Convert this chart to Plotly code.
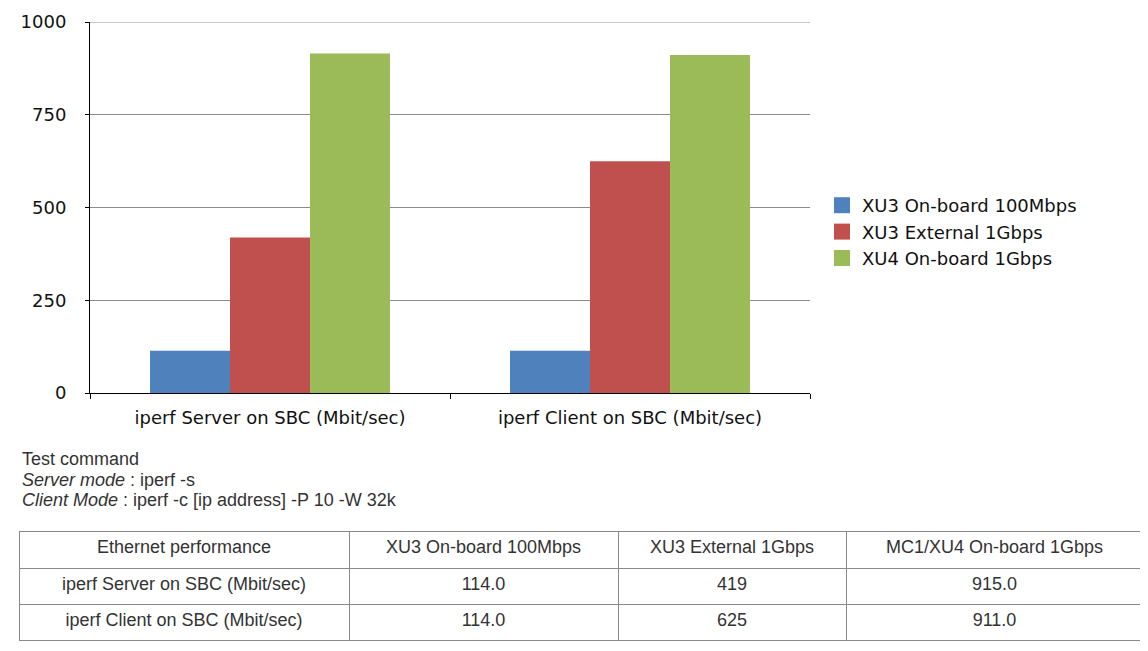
import plotly.graph_objects as go

tests = ["iperf Server on SBC (Mbit/sec)", "iperf Client on SBC (Mbit/sec)"]
xu3_onboard = [114.0, 114.0]
xu3_external = [419, 625]
xu4_onboard = [915.0, 911.0]
series_names = ["XU3 On-board 100Mbps", "XU3 External 1Gbps", "XU4 On-board 1Gbps"]
colors = ["#4F81BD", "#C0504D", "#9BBB59"]
y_ticks = [0, 250, 500, 750, 1000]

table_header = ["Ethernet performance", "XU3 On-board 100Mbps", "XU3 External 1Gbps", "MC1/XU4 On-board 1Gbps"]
table_col1 = ["114.0", "114.0"]
table_col2 = ["419", "625"]
table_col3 = ["915.0", "911.0"]

W, H = 1148, 651
OFF = 8  # page body margin


def px(x):
    return (x - OFF) / W


def py(y):
    return 1 - (y - OFF) / H


chart_font = "DejaVu Sans, Verdana"
text_font = "Liberation Sans, Arial"

fig = go.Figure()
for i, (name, vals) in enumerate(zip(series_names, [xu3_onboard, xu3_external, xu4_onboard])):
    fig.add_trace(go.Bar(x=tests, y=vals, name=name, marker_color=colors[i],
                         marker_line_width=0, showlegend=False))
    # legend swatch, bigger than the default bar one
    fig.add_trace(go.Scatter(x=[None], y=[None], mode="markers", name=name,
                             marker=dict(symbol="square", size=16, color=colors[i])))

fig.add_trace(go.Table(
    domain=dict(x=[px(19), px(1143)], y=[py(642), py(531)]),
    columnwidth=[330, 269, 228, 297],
    header=dict(values=table_header, height=37, align="center",
                fill_color="white", line=dict(color="#8a8a8a", width=1),
                font=dict(family=text_font, size=18, color="#333333")),
    cells=dict(values=[tests, table_col1, table_col2, table_col3], height=36, align="center",
               fill_color="white", line=dict(color="#8a8a8a", width=1),
               font=dict(family=text_font, size=18, color="#333333")),
))

notes = ["Test command",
         "<i>Server mode</i> : iperf -s",
         "<i>Client Mode</i> : iperf -c [ip address] -P 10 -W 32k"]
for k, line in enumerate(notes):
    fig.add_annotation(xref="paper", yref="paper", x=px(20), y=py(459 + 20.5 * k),
                       xanchor="left", yanchor="middle", align="left", showarrow=False,
                       text=line, font=dict(family=text_font, size=18, color="#333333"))

# top gridline at 1000 sits on the plot edge, draw it explicitly
fig.add_shape(type="line", xref="x domain", yref="y", x0=0, x1=1, y0=1000, y1=1000,
              line=dict(color="#8c8c8c", width=1), layer="below")

fig.update_layout(
    width=W, height=H,
    margin=dict(l=0, r=0, t=0, b=0, autoexpand=False),
    paper_bgcolor="white", plot_bgcolor="white",
    barmode="group", bargap=1 / 3, bargroupgap=0,
    font=dict(family=chart_font, size=18, color="#111111"),
    legend=dict(x=px(822), y=py(187), xanchor="left", yanchor="top",
                font=dict(size=18), bgcolor="rgba(0,0,0,0)", itemsizing="trace"),
    xaxis=dict(domain=[px(90), px(810)], showline=True, linecolor="black", linewidth=1,
               ticks="outside", tickson="boundaries", ticklen=5, tickcolor="black",
               showgrid=False, ticklabelstandoff=8, automargin=False),
    yaxis=dict(domain=[py(393), py(22)], range=[0, 1000], tickvals=y_ticks,
               showline=True, linecolor="black", linewidth=1,
               ticks="outside", ticklen=4, tickcolor="black",
               showgrid=True, gridcolor="#8c8c8c", gridwidth=1, zeroline=False,
               ticklabelstandoff=15, automargin=False),
)

fig.write_html("out.html")
